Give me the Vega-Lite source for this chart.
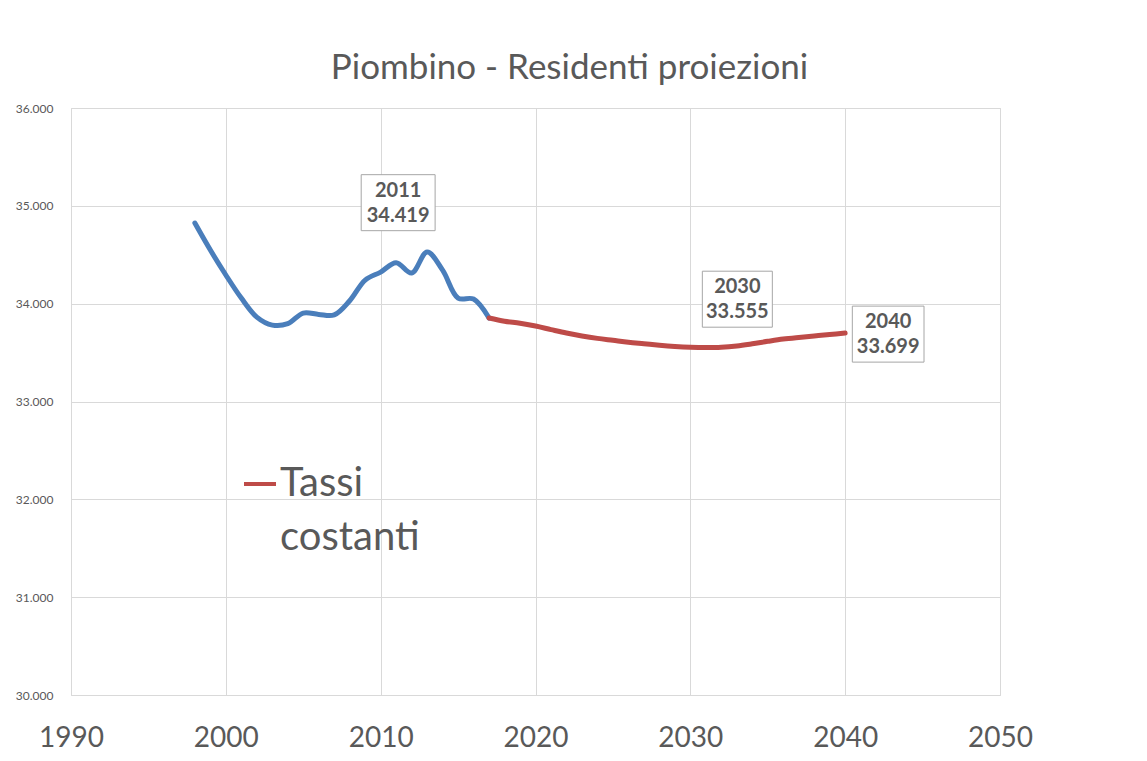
{
  "$schema": "https://vega.github.io/schema/vega-lite/v6.json",
  "width": 929,
  "height": 587,
  "autosize": {"type": "none"},
  "padding": {"left": 71, "top": 108, "right": 147, "bottom": 66},
  "background": "#ffffff",
  "config": {
    "font": "Lato",
    "view": {"stroke": "#d9d9d9", "strokeWidth": 1},
    "text": {"lineBreak": "\n"}
  },
  "title": {
    "text": "Piombino - Residenti proiezioni",
    "fontSize": 35,
    "fontWeight": "normal",
    "color": "#595959",
    "anchor": "middle",
    "offset": 16,
    "dx": 34,
    "font": "Lato"
  },
  "data": {
    "values": [
      {"year": 1998, "value": 34824, "series": "Storico"},
      {"year": 1999, "value": 34548, "series": "Storico"},
      {"year": 2000, "value": 34293, "series": "Storico"},
      {"year": 2001, "value": 34057, "series": "Storico"},
      {"year": 2002, "value": 33863, "series": "Storico"},
      {"year": 2003, "value": 33781, "series": "Storico"},
      {"year": 2004, "value": 33795, "series": "Storico"},
      {"year": 2005, "value": 33904, "series": "Storico"},
      {"year": 2006, "value": 33890, "series": "Storico"},
      {"year": 2007, "value": 33885, "series": "Storico"},
      {"year": 2008, "value": 34030, "series": "Storico"},
      {"year": 2009, "value": 34241, "series": "Storico"},
      {"year": 2010, "value": 34323, "series": "Storico"},
      {"year": 2011, "value": 34419, "series": "Storico", "lab": "2011\n34.419"},
      {"year": 2012, "value": 34313, "series": "Storico"},
      {"year": 2013, "value": 34528, "series": "Storico"},
      {"year": 2014, "value": 34343, "series": "Storico"},
      {"year": 2015, "value": 34057, "series": "Storico"},
      {"year": 2016, "value": 34047, "series": "Storico"},
      {"year": 2017, "value": 33853, "series": "Storico"},
      {"year": 2017, "value": 33853, "series": "Tassi costanti"},
      {"year": 2018, "value": 33820, "series": "Tassi costanti"},
      {"year": 2019, "value": 33800, "series": "Tassi costanti"},
      {"year": 2020, "value": 33771, "series": "Tassi costanti"},
      {"year": 2021, "value": 33735, "series": "Tassi costanti"},
      {"year": 2022, "value": 33700, "series": "Tassi costanti"},
      {"year": 2023, "value": 33670, "series": "Tassi costanti"},
      {"year": 2024, "value": 33645, "series": "Tassi costanti"},
      {"year": 2025, "value": 33625, "series": "Tassi costanti"},
      {"year": 2026, "value": 33605, "series": "Tassi costanti"},
      {"year": 2027, "value": 33590, "series": "Tassi costanti"},
      {"year": 2028, "value": 33575, "series": "Tassi costanti"},
      {"year": 2029, "value": 33563, "series": "Tassi costanti"},
      {"year": 2030, "value": 33555, "series": "Tassi costanti", "lab": "2030\n33.555"},
      {"year": 2031, "value": 33552, "series": "Tassi costanti"},
      {"year": 2032, "value": 33555, "series": "Tassi costanti"},
      {"year": 2033, "value": 33568, "series": "Tassi costanti"},
      {"year": 2034, "value": 33590, "series": "Tassi costanti"},
      {"year": 2035, "value": 33615, "series": "Tassi costanti"},
      {"year": 2036, "value": 33638, "series": "Tassi costanti"},
      {"year": 2037, "value": 33655, "series": "Tassi costanti"},
      {"year": 2038, "value": 33670, "series": "Tassi costanti"},
      {"year": 2039, "value": 33685, "series": "Tassi costanti"},
      {"year": 2040, "value": 33699, "series": "Tassi costanti", "lab": "2040\n33.699"}
    ]
  },
  "encoding": {
    "x": {
      "field": "year",
      "type": "quantitative",
      "scale": {"domain": [1990, 2050], "nice": false, "zero": false},
      "axis": {
        "title": null,
        "values": [1990, 2000, 2010, 2020, 2030, 2040, 2050],
        "format": "d",
        "labelFontSize": 28,
        "labelColor": "#595959",
        "labelPadding": 29,
        "ticks": false,
        "domain": false,
        "gridColor": "#d9d9d9",
        "labelFont": "Lato",
        "labelFlush": false
      }
    },
    "y": {
      "field": "value",
      "type": "quantitative",
      "scale": {"domain": [30000, 36000], "nice": false, "zero": false},
      "axis": {
        "title": null,
        "values": [30000, 31000, 32000, 33000, 34000, 35000, 36000],
        "labelExpr": "replace(format(datum.value, ','), ',', '.')",
        "labelFontSize": 12,
        "labelColor": "#595959",
        "labelPadding": 18,
        "ticks": false,
        "domain": false,
        "gridColor": "#d9d9d9",
        "labelFont": "Lato"
      }
    }
  },
  "layer": [
    {
      "mark": {"type": "line", "interpolate": "catmull-rom", "strokeWidth": 5, "strokeCap": "round"},
      "encoding": {
        "color": {
          "field": "series",
          "type": "nominal",
          "scale": {"domain": ["Storico", "Tassi costanti"], "range": ["#4a7ebb", "#be4b48"]},
          "legend": {
            "values": ["Tassi costanti"],
            "title": null,
            "orient": "none",
            "legendX": 169,
            "legendY": 356,
            "symbolType": "stroke",
            "symbolStrokeWidth": 4,
            "symbolSize": 1024,
            "labelFontSize": 40,
            "labelColor": "#595959",
            "labelFont": "Lato",
            "labelOffset": 0,
            "labelLimit": 0,
            "labelExpr": "split(datum.label, ' ')",
            "encode": {"labels": {"update": {"lineHeight": {"value": 54}}}}
          }
        }
      }
    },
    {
      "transform": [{"filter": "datum.year == 2011 && datum.lab"}],
      "mark": {"type": "point", "shape": "M-1.32,-1H1.32V1H-1.32Z", "size": 3136, "filled": true, "fill": "#ffffff", "stroke": "#a6a6a6", "strokeWidth": 1, "opacity": 1, "yOffset": -60, "xOffset": 2}
    },
    {
      "transform": [{"filter": "datum.year == 2011 && datum.lab"}],
      "mark": {"type": "text", "fontSize": 20, "fontWeight": "bold", "color": "#595959", "lineHeight": 25, "align": "center", "baseline": "middle", "yOffset": -72, "xOffset": 2, "font": "Lato"},
      "encoding": {"text": {"field": "lab"}}
    },
    {
      "transform": [{"filter": "datum.year == 2030 && datum.lab"}],
      "mark": {"type": "point", "shape": "M-1.25,-1H1.25V1H-1.25Z", "size": 3136, "filled": true, "fill": "#ffffff", "stroke": "#a6a6a6", "strokeWidth": 1, "opacity": 1, "yOffset": -48, "xOffset": 47}
    },
    {
      "transform": [{"filter": "datum.year == 2030 && datum.lab"}],
      "mark": {"type": "text", "fontSize": 20, "fontWeight": "bold", "color": "#595959", "lineHeight": 25, "align": "center", "baseline": "middle", "yOffset": -60, "xOffset": 47, "font": "Lato"},
      "encoding": {"text": {"field": "lab"}}
    },
    {
      "transform": [{"filter": "datum.year == 2040 && datum.lab"}],
      "mark": {"type": "point", "shape": "M-1.28,-1H1.28V1H-1.28Z", "size": 3136, "filled": true, "fill": "#ffffff", "stroke": "#a6a6a6", "strokeWidth": 1, "opacity": 1, "yOffset": 1, "xOffset": 43}
    },
    {
      "transform": [{"filter": "datum.year == 2040 && datum.lab"}],
      "mark": {"type": "text", "fontSize": 20, "fontWeight": "bold", "color": "#595959", "lineHeight": 25, "align": "center", "baseline": "middle", "yOffset": -11, "xOffset": 43, "font": "Lato"},
      "encoding": {"text": {"field": "lab"}}
    }
  ]
}
